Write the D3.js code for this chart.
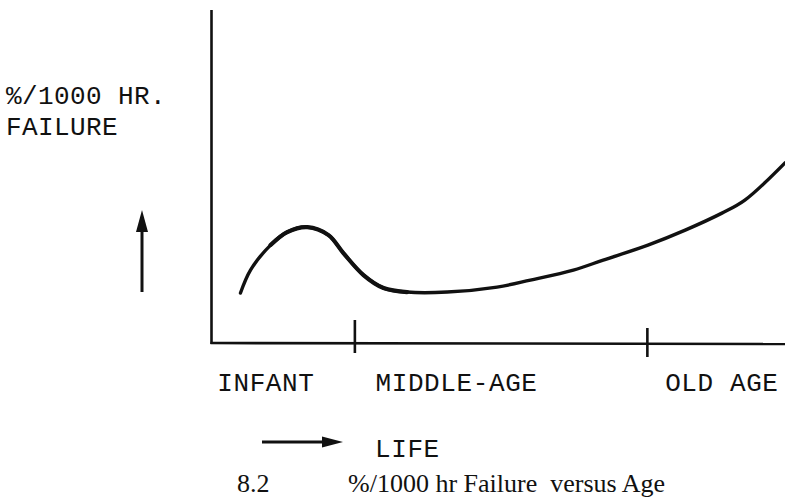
<!DOCTYPE html>
<html>
<head>
<meta charset="utf-8">
<script src="https://cdn.jsdelivr.net/npm/d3@7"></script>
<style>
  html, body { margin: 0; padding: 0; background: #fff; }
  svg { display: block; }
  .tw { font-family: "Liberation Mono", "DejaVu Sans Mono", monospace; font-size: 26px; letter-spacing: 0.6px; fill: #111; }
  .ylab { letter-spacing: 0.4px; }
  .cap { font-family: "Liberation Serif", "Times New Roman", serif; font-size: 26px; fill: #111; white-space: pre; }
</style>
</head>
<body>
<script>
// Failure rate over product life (bathtub-style curve), relative units
const lifeValues = [5.05, 6.8, 10.3, 13.2, 16.7, 20.4, 23.0, 26.5, 30.0, 34.1, 41.1, 49.8, 55.6, 63.1, 68.3, 76.1, 82.6, 89.0, 93.0, 100];
const failureRate = [15.0, 21.9, 29.4, 33.3, 34.8, 32.4, 27.0, 20.4, 16.5, 15.3, 15.3, 16.8, 18.9, 21.9, 24.9, 29.4, 33.9, 39.0, 42.9, 54.1];

// Life stage boundaries and stage labels
const stageBoundaries = [25, 76];
const stageLabels = ["INFANT", "MIDDLE-AGE", "OLD AGE"];
const stageLabelPos = [1, 28.6, 79.1];

const yLabelLines = ["%/1000 HR.", "FAILURE"];
const lifeLabel = "LIFE";
const figNumber = "8.2";
const figTitle = "%/1000 hr Failure  versus Age";

const W = 785, H = 502;
const svg = d3.select("body").append("svg").attr("width", W).attr("height", H);

const x = d3.scaleLinear().domain([0, 100]).range([211.5, 785]);
const y = d3.scaleLinear().domain([0, 100]).range([343, 10]);

const ink = "#111";

// axes drawn as plain strokes
svg.append("line").attr("x1", x(0)).attr("x2", x(0)).attr("y1", y(100)).attr("y2", y(0) + 1)
  .attr("stroke", ink).attr("stroke-width", 2.6);
svg.append("line").attr("x1", x(0) - 1).attr("x2", x(100)).attr("y1", y(0)).attr("y2", y(0) + 1)
  .attr("stroke", ink).attr("stroke-width", 2.6);

// stage boundary ticks crossing the life axis
svg.selectAll("line.tick").data(stageBoundaries).join("line")
  .attr("class", "tick")
  .attr("x1", d => x(d)).attr("x2", d => x(d))
  .attr("y1", (d, i) => y(0) - (i === 0 ? 23 : 15))
  .attr("y2", (d, i) => y(0) + (i === 0 ? 10 : 14))
  .attr("stroke", ink).attr("stroke-width", 2.6);

// failure curve; the early-life hump is inked a little heavier
const pts = lifeValues.map((v, i) => [v, failureRate[i]]);
const line = d3.line().x(d => x(d[0])).y(d => y(d[1])).curve(d3.curveCatmullRom.alpha(0.5));
svg.append("path")
  .datum(pts)
  .attr("fill", "none").attr("stroke", ink).attr("stroke-width", 3.4)
  .attr("stroke-linecap", "round").attr("stroke-linejoin", "round")
  .attr("d", line);
svg.append("path")
  .datum(pts.slice(2, 10))
  .attr("fill", "none").attr("stroke", ink).attr("stroke-width", 4.2)
  .attr("stroke-linecap", "round").attr("stroke-linejoin", "round")
  .attr("d", line);

// stage labels
svg.selectAll("text.stage").data(stageLabels).join("text")
  .attr("class", "tw stage")
  .attr("x", (d, i) => x(stageLabelPos[i]))
  .attr("y", 391)
  .text(d => d);

// y label
svg.selectAll("text.ylab").data(yLabelLines).join("text")
  .attr("class", "tw ylab")
  .attr("x", 6).attr("y", (d, i) => 104 + i * 31)
  .text(d => d);

// arrows: shaft plus filled triangular head
function arrow(x1, y1, x2, y2, headLen, headW) {
  const a = Math.atan2(y2 - y1, x2 - x1);
  const bx = x2 - headLen * Math.cos(a), by = y2 - headLen * Math.sin(a);
  const nx = -Math.sin(a) * headW / 2, ny = Math.cos(a) * headW / 2;
  svg.append("line").attr("x1", x1).attr("y1", y1).attr("x2", bx).attr("y2", by)
    .attr("stroke", ink).attr("stroke-width", 3);
  svg.append("path")
    .attr("d", `M${x2},${y2}L${bx + nx},${by + ny}L${bx - nx},${by - ny}Z`)
    .attr("fill", ink);
}
arrow(142, 292, 142, 210, 22, 12);
arrow(262, 442, 343, 442, 21, 11);

svg.append("text").attr("class", "tw").attr("x", 375).attr("y", 457).text(lifeLabel);

// figure caption
svg.append("text").attr("class", "cap").attr("x", 237).attr("y", 492).text(figNumber);
svg.append("text").attr("class", "cap").attr("x", 348).attr("y", 492).text(figTitle);
</script>
</body>
</html>
